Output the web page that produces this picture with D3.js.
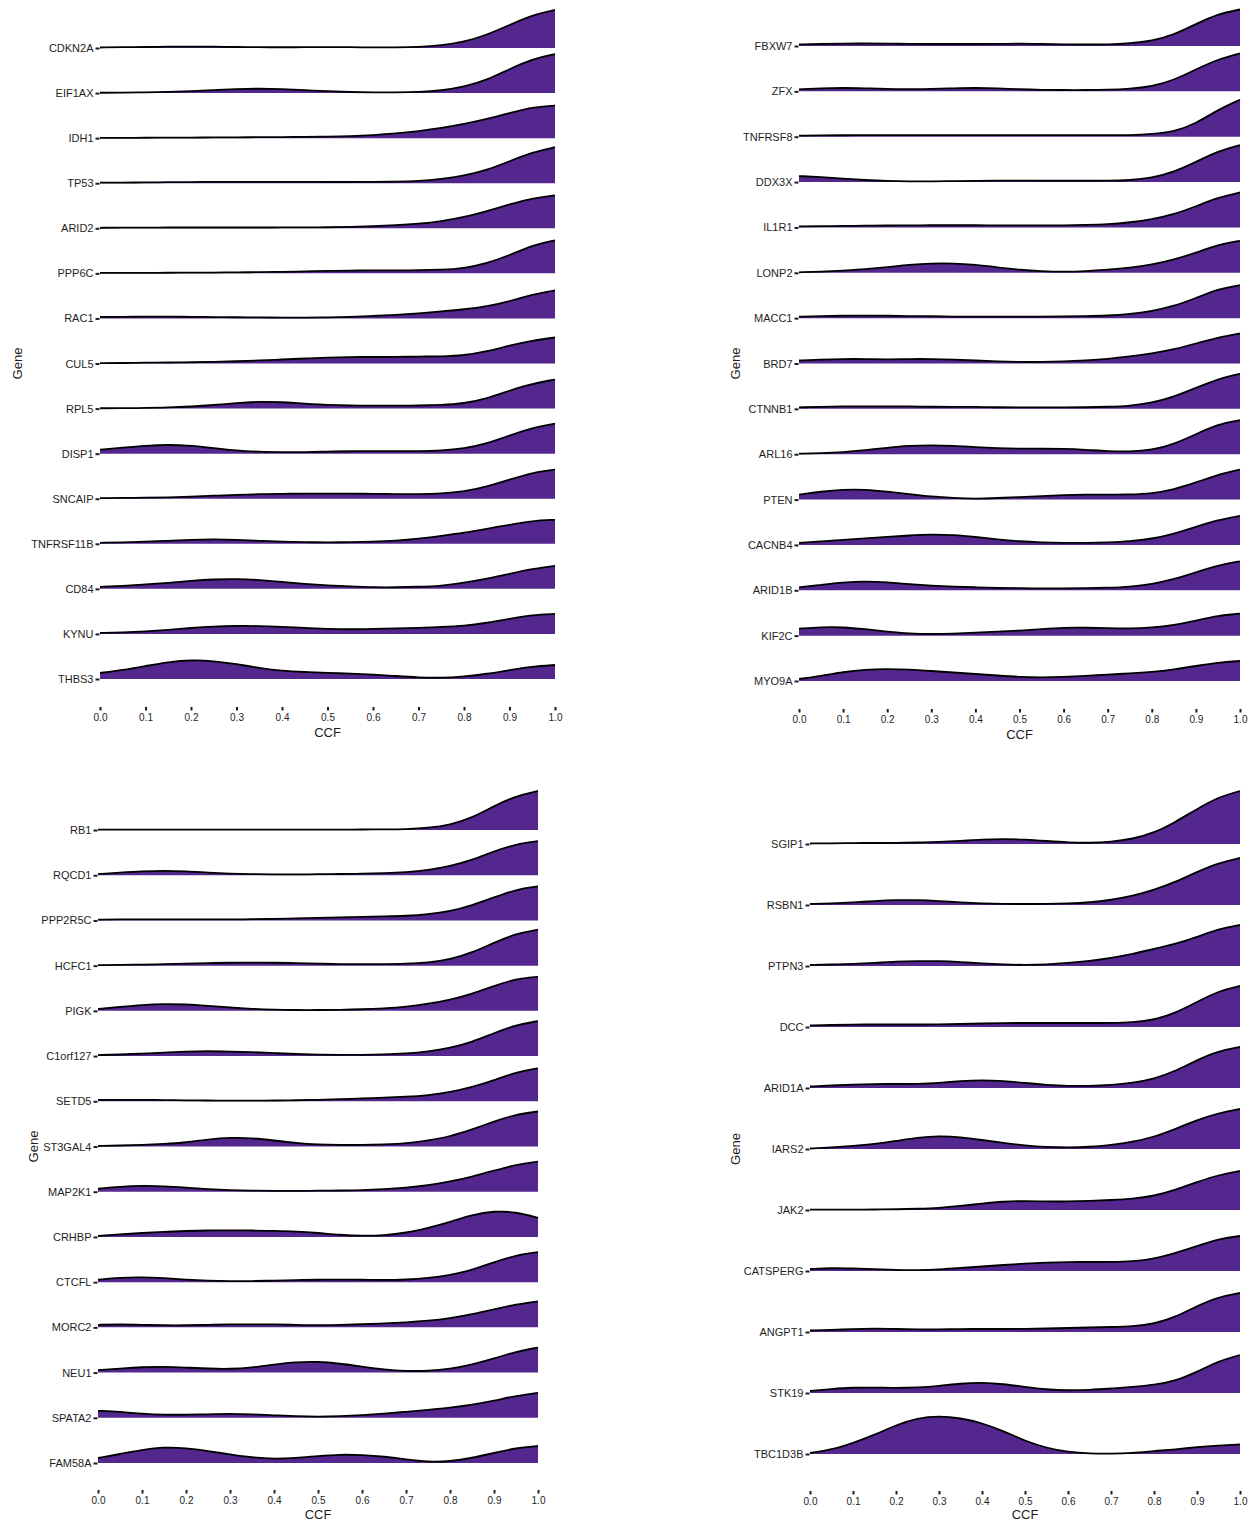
<!DOCTYPE html>
<html>
<head>
<meta charset="utf-8">
<script src="https://cdn.jsdelivr.net/npm/d3@7"></script>
<style>
  body { margin: 0; background: #fff; }
  svg text { font-family: "Liberation Sans", Arial, sans-serif; fill: #1e1e1e; }
</style>
</head>
<body>
<div id="chart"></div>
<script>
// data: density of CCF per gene, sampled every 0.05 from 0 to 1
const CCF_GRID = [0, 0.05, 0.1, 0.15, 0.2, 0.25, 0.3, 0.35, 0.4, 0.45, 0.5,
    0.55, 0.6, 0.65, 0.7, 0.75, 0.8, 0.85, 0.9, 0.95, 1.0];
const CCF_TICKS = [0, 0.1, 0.2, 0.3, 0.4, 0.5, 0.6, 0.7, 0.8, 0.9, 1.0];

const GENES_A = ["CDKN2A", "EIF1AX", "IDH1", "TP53", "ARID2", "PPP6C", "RAC1", "CUL5",
    "RPL5", "DISP1", "SNCAIP", "TNFRSF11B", "CD84", "KYNU", "THBS3"];
const DENS_A = [
    [0.05,0.08,0.1,0.13,0.15,0.13,0.1,0.08,0.07,0.08,0.09,0.08,0.06,0.06,0.1,0.25,0.6,1.3,2.3,3.3,3.8],
    [0.03,0.04,0.07,0.12,0.2,0.3,0.4,0.45,0.4,0.3,0.18,0.1,0.06,0.06,0.1,0.25,0.6,1.3,2.4,3.4,3.9],
    [0.03,0.03,0.04,0.05,0.06,0.07,0.08,0.1,0.11,0.13,0.15,0.2,0.3,0.45,0.7,1.0,1.4,1.9,2.5,3.1,3.25],
    [0.05,0.06,0.08,0.1,0.12,0.13,0.14,0.14,0.14,0.13,0.12,0.12,0.13,0.15,0.2,0.4,0.75,1.3,2.2,3.1,3.6],
    [0.05,0.06,0.07,0.08,0.08,0.08,0.08,0.08,0.08,0.09,0.1,0.13,0.2,0.3,0.45,0.7,1.1,1.7,2.4,3.0,3.3],
    [0.05,0.05,0.05,0.06,0.07,0.08,0.1,0.12,0.15,0.2,0.25,0.28,0.3,0.3,0.3,0.35,0.5,1.0,1.8,2.8,3.3],
    [0.15,0.16,0.18,0.18,0.16,0.14,0.12,0.1,0.08,0.08,0.1,0.15,0.25,0.35,0.5,0.7,0.9,1.2,1.7,2.4,2.8],
    [0.03,0.05,0.08,0.1,0.12,0.16,0.22,0.3,0.4,0.5,0.6,0.65,0.65,0.65,0.7,0.7,0.8,1.2,1.8,2.3,2.6],
    [0.03,0.04,0.06,0.1,0.2,0.35,0.55,0.7,0.65,0.5,0.35,0.3,0.3,0.3,0.3,0.35,0.5,1.0,1.8,2.5,2.9],
    [0.4,0.6,0.8,0.9,0.8,0.55,0.3,0.18,0.15,0.15,0.2,0.25,0.25,0.25,0.25,0.3,0.5,1.0,1.8,2.6,3.0],
    [0.05,0.08,0.1,0.13,0.2,0.3,0.4,0.45,0.5,0.5,0.5,0.5,0.5,0.45,0.45,0.5,0.7,1.2,1.9,2.6,2.9],
    [0.1,0.15,0.2,0.3,0.4,0.45,0.4,0.3,0.2,0.15,0.15,0.15,0.2,0.3,0.5,0.8,1.1,1.5,1.9,2.3,2.4],
    [0.2,0.3,0.45,0.6,0.8,0.95,1.0,0.9,0.7,0.5,0.35,0.25,0.15,0.15,0.2,0.3,0.6,1.0,1.5,2.0,2.3],
    [0.1,0.15,0.25,0.4,0.6,0.75,0.8,0.8,0.7,0.6,0.5,0.45,0.5,0.55,0.6,0.7,0.8,1.1,1.5,1.9,2.0],
    [0.6,0.9,1.3,1.7,1.9,1.8,1.5,1.1,0.8,0.7,0.6,0.55,0.45,0.3,0.15,0.1,0.25,0.5,0.9,1.25,1.4]
];

const GENES_B = ["FBXW7", "ZFX", "TNFRSF8", "DDX3X", "IL1R1", "LONP2", "MACC1", "BRD7",
    "CTNNB1", "ARL16", "PTEN", "CACNB4", "ARID1B", "KIF2C", "MYO9A"];
const DENS_B = [
    [0.15,0.2,0.25,0.25,0.25,0.2,0.2,0.2,0.2,0.2,0.25,0.2,0.15,0.15,0.15,0.25,0.5,1.1,2.2,3.2,3.65],
    [0.2,0.3,0.35,0.3,0.25,0.2,0.25,0.3,0.35,0.3,0.2,0.15,0.13,0.13,0.15,0.25,0.5,1.1,2.2,3.2,3.8],
    [0.1,0.13,0.15,0.15,0.15,0.15,0.15,0.15,0.15,0.15,0.15,0.15,0.15,0.15,0.15,0.15,0.25,0.5,1.3,2.7,3.7],
    [0.6,0.5,0.35,0.2,0.1,0.06,0.06,0.1,0.13,0.15,0.15,0.13,0.13,0.13,0.13,0.18,0.4,1.0,2.0,3.1,3.7],
    [0.1,0.12,0.15,0.17,0.2,0.2,0.22,0.22,0.22,0.2,0.2,0.2,0.2,0.25,0.3,0.5,0.8,1.3,2.1,3.0,3.5],
    [0.05,0.1,0.2,0.35,0.55,0.8,0.95,0.95,0.8,0.55,0.3,0.15,0.1,0.15,0.3,0.5,0.8,1.3,2.0,2.8,3.2],
    [0.15,0.2,0.25,0.25,0.25,0.2,0.2,0.15,0.15,0.15,0.15,0.15,0.17,0.2,0.25,0.4,0.7,1.2,2.0,2.9,3.3],
    [0.3,0.4,0.45,0.45,0.4,0.45,0.45,0.4,0.3,0.2,0.15,0.15,0.2,0.3,0.45,0.7,1.0,1.4,2.0,2.6,3.0],
    [0.15,0.2,0.25,0.25,0.25,0.25,0.2,0.2,0.2,0.15,0.15,0.15,0.15,0.15,0.2,0.3,0.6,1.2,2.1,3.0,3.5],
    [0.05,0.1,0.2,0.4,0.65,0.85,0.9,0.85,0.7,0.6,0.55,0.55,0.55,0.45,0.3,0.25,0.4,1.0,2.0,3.0,3.4],
    [0.5,0.8,1.0,1.0,0.8,0.55,0.3,0.15,0.08,0.15,0.25,0.35,0.45,0.5,0.5,0.5,0.6,1.0,1.7,2.5,3.0],
    [0.2,0.35,0.5,0.65,0.8,0.95,1.05,1.0,0.8,0.55,0.35,0.25,0.2,0.2,0.25,0.35,0.6,1.1,1.8,2.5,2.9],
    [0.3,0.55,0.8,0.9,0.8,0.6,0.45,0.35,0.3,0.25,0.2,0.2,0.2,0.2,0.25,0.35,0.6,1.1,1.8,2.5,2.9],
    [0.7,0.85,0.85,0.65,0.4,0.2,0.15,0.2,0.3,0.4,0.5,0.65,0.8,0.8,0.75,0.7,0.8,1.05,1.5,2.0,2.2],
    [0.2,0.5,0.9,1.15,1.2,1.15,1.0,0.85,0.7,0.55,0.4,0.35,0.4,0.5,0.65,0.75,0.9,1.15,1.5,1.85,2.0]
];

const GENES_C = ["RB1", "RQCD1", "PPP2R5C", "HCFC1", "PIGK", "C1orf127", "SETD5", "ST3GAL4",
    "MAP2K1", "CRHBP", "CTCFL", "MORC2", "NEU1", "SPATA2", "FAM58A"];
const DENS_C = [
    [0.03,0.03,0.03,0.03,0.03,0.03,0.03,0.03,0.03,0.03,0.03,0.04,0.05,0.06,0.08,0.2,0.5,1.2,2.4,3.4,3.9],
    [0.1,0.25,0.4,0.45,0.4,0.25,0.15,0.1,0.08,0.08,0.1,0.12,0.15,0.2,0.3,0.5,0.9,1.5,2.4,3.1,3.4],
    [0.08,0.1,0.1,0.1,0.1,0.1,0.1,0.12,0.15,0.2,0.25,0.3,0.35,0.4,0.45,0.6,0.9,1.5,2.3,3.1,3.4],
    [0.05,0.08,0.1,0.15,0.2,0.25,0.3,0.3,0.3,0.25,0.2,0.15,0.15,0.15,0.18,0.3,0.6,1.3,2.3,3.2,3.6],
    [0.2,0.4,0.6,0.7,0.65,0.5,0.35,0.2,0.1,0.08,0.08,0.1,0.15,0.25,0.4,0.7,1.1,1.7,2.5,3.2,3.4],
    [0.1,0.15,0.25,0.35,0.45,0.5,0.45,0.4,0.3,0.2,0.15,0.12,0.12,0.15,0.25,0.45,0.8,1.4,2.3,3.1,3.5],
    [0.15,0.15,0.15,0.12,0.1,0.08,0.06,0.06,0.08,0.1,0.15,0.2,0.3,0.35,0.45,0.6,0.9,1.4,2.1,2.9,3.3],
    [0.05,0.1,0.15,0.25,0.4,0.7,0.9,0.85,0.6,0.35,0.2,0.15,0.15,0.2,0.3,0.6,1.0,1.7,2.5,3.2,3.5],
    [0.3,0.5,0.6,0.55,0.4,0.25,0.15,0.1,0.08,0.08,0.1,0.12,0.15,0.25,0.4,0.65,1.0,1.5,2.1,2.7,3.0],
    [0.1,0.25,0.4,0.5,0.6,0.65,0.65,0.65,0.6,0.55,0.4,0.2,0.1,0.15,0.4,0.9,1.5,2.2,2.6,2.5,1.9],
    [0.25,0.45,0.5,0.4,0.25,0.15,0.1,0.1,0.15,0.2,0.25,0.25,0.25,0.2,0.25,0.4,0.7,1.2,2.0,2.7,3.0],
    [0.25,0.3,0.25,0.2,0.2,0.25,0.3,0.3,0.3,0.25,0.2,0.25,0.3,0.4,0.5,0.65,0.9,1.3,1.8,2.3,2.6],
    [0.25,0.4,0.55,0.6,0.5,0.4,0.35,0.5,0.8,1.05,1.1,0.9,0.6,0.3,0.15,0.15,0.35,0.8,1.4,2.1,2.5],
    [0.7,0.6,0.4,0.3,0.3,0.35,0.4,0.35,0.25,0.15,0.1,0.15,0.25,0.4,0.6,0.8,1.0,1.3,1.7,2.2,2.5],
    [0.5,0.9,1.3,1.6,1.5,1.2,0.85,0.55,0.4,0.5,0.7,0.85,0.8,0.65,0.35,0.1,0.15,0.5,1.0,1.5,1.7]
];

const GENES_D = ["SGIP1", "RSBN1", "PTPN3", "DCC", "ARID1A", "IARS2", "JAK2", "CATSPERG",
    "ANGPT1", "STK19", "TBC1D3B"];
const DENS_D = [
    [0.05,0.07,0.1,0.1,0.1,0.15,0.2,0.3,0.45,0.5,0.45,0.3,0.15,0.1,0.2,0.5,1.1,2.2,3.5,4.7,5.3],
    [0.1,0.15,0.25,0.4,0.5,0.5,0.4,0.25,0.15,0.1,0.1,0.1,0.15,0.25,0.5,0.9,1.5,2.3,3.3,4.2,4.7],
    [0.1,0.15,0.2,0.3,0.45,0.5,0.5,0.4,0.25,0.15,0.1,0.15,0.3,0.5,0.8,1.2,1.7,2.2,2.9,3.7,4.1],
    [0.15,0.2,0.25,0.25,0.25,0.25,0.25,0.3,0.35,0.4,0.4,0.4,0.4,0.4,0.4,0.45,0.7,1.4,2.5,3.6,4.1],
    [0.15,0.25,0.35,0.4,0.4,0.4,0.5,0.7,0.8,0.7,0.5,0.3,0.2,0.2,0.3,0.5,0.9,1.7,2.8,3.7,4.1],
    [0.05,0.15,0.3,0.5,0.8,1.15,1.3,1.2,0.9,0.6,0.35,0.2,0.15,0.2,0.4,0.7,1.2,2.0,2.9,3.6,4.0],
    [0.03,0.03,0.04,0.05,0.07,0.12,0.2,0.4,0.65,0.85,0.9,0.85,0.85,0.9,1.0,1.1,1.4,2.0,2.8,3.5,3.9],
    [0.2,0.3,0.25,0.2,0.1,0.08,0.15,0.3,0.45,0.6,0.75,0.85,0.9,0.9,0.9,0.95,1.2,1.8,2.5,3.2,3.5],
    [0.15,0.2,0.3,0.35,0.3,0.25,0.25,0.3,0.3,0.3,0.3,0.35,0.4,0.45,0.5,0.55,0.8,1.5,2.6,3.5,3.9],
    [0.2,0.4,0.55,0.55,0.5,0.55,0.7,0.95,1.05,0.9,0.6,0.35,0.25,0.3,0.45,0.6,0.8,1.2,2.1,3.2,3.8],
    [0.1,0.43,1.1,1.9,2.9,3.6,3.8,3.6,3.1,2.3,1.3,0.6,0.2,0.05,0.03,0.1,0.3,0.45,0.7,0.85,0.95]
];

// layout
const WIDTH = 1255;
const HEIGHT = 1521;
const FILL = "#54278f";
const PX_PER_UNIT = 10;

const panels = [
    { genes: GENES_A, dens: DENS_A, x0: 100, x1: 555, yTop: 48, yBot: 679, axisY: 707, geneX: 17, titleDy: 30 },
    { genes: GENES_B, dens: DENS_B, x0: 799, x1: 1240, yTop: 46, yBot: 681, axisY: 709, geneX: 735, titleDy: 29.5 },
    { genes: GENES_C, dens: DENS_C, x0: 98, x1: 538, yTop: 830, yBot: 1463, axisY: 1490, geneX: 33, titleDy: 28.5 },
    { genes: GENES_D, dens: DENS_D, x0: 810, x1: 1240, yTop: 844, yBot: 1454, axisY: 1491, geneX: 735, titleDy: 27.5 },
];

const svg = d3.select("#chart").append("svg")
    .attr("width", WIDTH)
    .attr("height", HEIGHT);

panels.forEach(drawPanel);

function drawPanel(p) {
    const g = svg.append("g");
    const x = d3.scaleLinear().domain([0, 1]).range([p.x0, p.x1]);
    const y = d3.scalePoint().domain(p.genes).range([p.yTop, p.yBot]);
    const h = d3.scaleLinear().domain([0, 1]).range([0, PX_PER_UNIT]);

    const area = d3.area()
        .x(d => x(d[0]))
        .y0(d => d[2])
        .y1(d => d[2] - h(d[1]))
        .curve(d3.curveBasis);
    const line = d3.line()
        .x(d => x(d[0]))
        .y(d => d[2] - h(d[1]))
        .curve(d3.curveBasis);

    // ridges, top row first so lower rows sit on top
    p.genes.forEach((gene, i) => {
        const base = y(gene);
        const pts = CCF_GRID.map((v, j) => [v, p.dens[i][j], base]);
        g.append("path")
            .attr("d", area(pts))
            .attr("fill", FILL);
        g.append("path")
            .attr("d", line(pts))
            .attr("fill", "none")
            .attr("stroke", "#000")
            .attr("stroke-width", 1.8);
    });

    // gene axis
    const yAxis = g.append("g")
        .attr("transform", `translate(${p.x0 - 0.5},0)`)
        .call(d3.axisLeft(y).tickSize(4).tickPadding(2));
    yAxis.select(".domain").remove();
    yAxis.selectAll(".tick line").attr("stroke", "#1e1e1e").attr("stroke-width", 2);
    yAxis.selectAll(".tick text")
        .attr("font-size", 11)
        .attr("fill", "#1e1e1e")
        .attr("font-family", null);

    // CCF axis
    const xAxis = g.append("g")
        .attr("transform", `translate(0,${p.axisY})`)
        .call(d3.axisBottom(x).tickValues(CCF_TICKS).tickFormat(d3.format(".1f"))
            .tickSize(3.5).tickPadding(3));
    xAxis.select(".domain").remove();
    xAxis.selectAll(".tick line").attr("stroke", "#1e1e1e").attr("stroke-width", 2);
    xAxis.selectAll(".tick text")
        .attr("font-size", 10)
        .attr("fill", "#1e1e1e")
        .attr("font-family", null);

    g.append("text")
        .attr("x", (p.x0 + p.x1) / 2)
        .attr("y", p.axisY + p.titleDy)
        .attr("text-anchor", "middle")
        .attr("font-size", 13)
        .text("CCF");

    g.append("text")
        .attr("transform", `translate(${p.geneX},${(p.yTop + p.yBot) / 2}) rotate(-90)`)
        .attr("text-anchor", "middle")
        .attr("dy", "0.35em")
        .attr("font-size", 13)
        .text("Gene");
}
</script>
</body>
</html>
